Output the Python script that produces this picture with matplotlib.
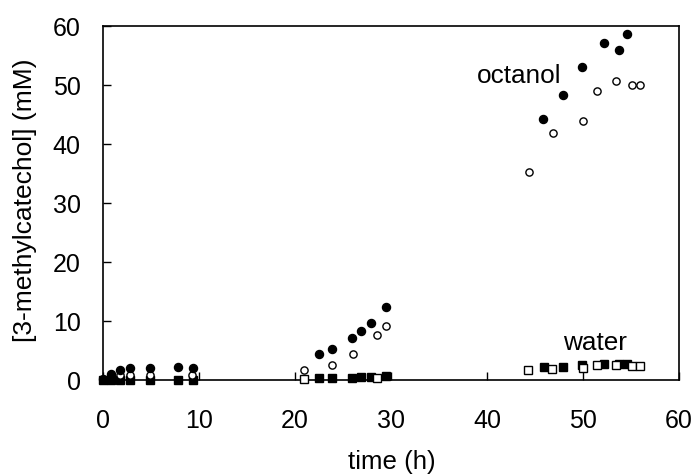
import matplotlib
matplotlib.use("Agg")
import matplotlib.pyplot as plt

plt.rcParams['font.family'] = ['Liberation Sans', 'DejaVu Sans']

# octanol phase, experiment 1 (filled circles)
oct1_t = [0.0, 0.8, 1.8, 2.8, 4.9, 7.8, 9.4, 22.5, 23.9, 25.9, 26.9, 27.9, 29.5,
          45.8, 47.9, 49.9, 52.2, 53.7, 54.6]
oct1_c = [0.2, 1.1, 1.8, 2.0, 2.0, 2.3, 2.0, 4.5, 5.2, 7.2, 8.3, 9.7, 12.4,
          44.2, 48.3, 53.0, 57.2, 56.0, 58.6]
# octanol phase, experiment 2 (open circles)
oct2_t = [1.8, 2.8, 4.9, 9.3, 20.9, 23.9, 26.0, 28.6, 29.5,
          44.4, 46.9, 50.0, 51.5, 53.4, 55.1, 55.9]
oct2_c = [0.8, 0.8, 0.8, 0.8, 1.7, 2.5, 4.5, 7.6, 9.2,
          35.2, 41.8, 43.9, 49.0, 50.7, 50.0, 50.0]
# water phase, experiment 1 (filled squares)
wat1_t = [0.0, 0.8, 1.8, 2.8, 4.9, 7.8, 9.4, 22.5, 23.9, 25.9, 26.9, 27.9, 29.5,
          45.9, 47.9, 49.9, 52.2, 53.7, 54.6]
wat1_c = [0.1, 0.1, 0.1, 0.1, 0.1, 0.1, 0.1, 0.3, 0.3, 0.4, 0.6, 0.6, 0.7,
          2.2, 2.2, 2.5, 2.7, 2.7, 2.7]
# water phase, experiment 2 (open squares)
wat2_t = [20.9, 28.6, 44.3, 46.8, 50.0, 51.5, 53.4, 55.1, 55.9]
wat2_c = [0.2, 0.3, 1.8, 1.9, 2.0, 2.5, 2.6, 2.4, 2.4]

fig = plt.figure(figsize=(6.95, 4.74), dpi=100)
ax = fig.add_axes([0.148, 0.198, 0.829, 0.747])

ms = 5.2
ax.plot(wat1_t, wat1_c, 's', color='black', ms=ms, clip_on=False, zorder=3)
ax.plot(wat2_t, wat2_c, 's', mfc='white', mec='black', mew=1.0, ms=ms, clip_on=False, zorder=3)
ax.plot(oct2_t, oct2_c, 'o', mfc='white', mec='black', mew=1.0, ms=ms, clip_on=False, zorder=4)
ax.plot(oct1_t, oct1_c, 'o', color='black', ms=ms + 0.6, clip_on=False, zorder=5)

ax.text(43.3, 50.4, 'octanol', fontsize=18.8, ha='center', va='baseline')
ax.text(51.3, 5.1, 'water', fontsize=18.8, ha='center', va='baseline')

ax.set_xlim(0, 60)
ax.set_ylim(0, 60)
ax.set_xticks(range(0, 61, 10))
ax.set_yticks(range(0, 61, 10))
ax.tick_params(direction='in', length=6, width=1, labelsize=18,
               top=False, right=False)
ax.tick_params(axis='x', pad=21)
ax.tick_params(axis='y', pad=16)
for s in ax.spines.values():
    s.set_linewidth(1.2)

ax.set_xlabel('time (h)', fontsize=18.6, va='center', ha='center')
ax.xaxis.set_label_coords(0.501, -0.232)
ax.set_ylabel('[3-methylcatechol] (mM)', fontsize=19, va='center', ha='center')
ax.yaxis.set_label_coords(-0.135, 0.508)

fig.savefig('out.png', dpi=100)
